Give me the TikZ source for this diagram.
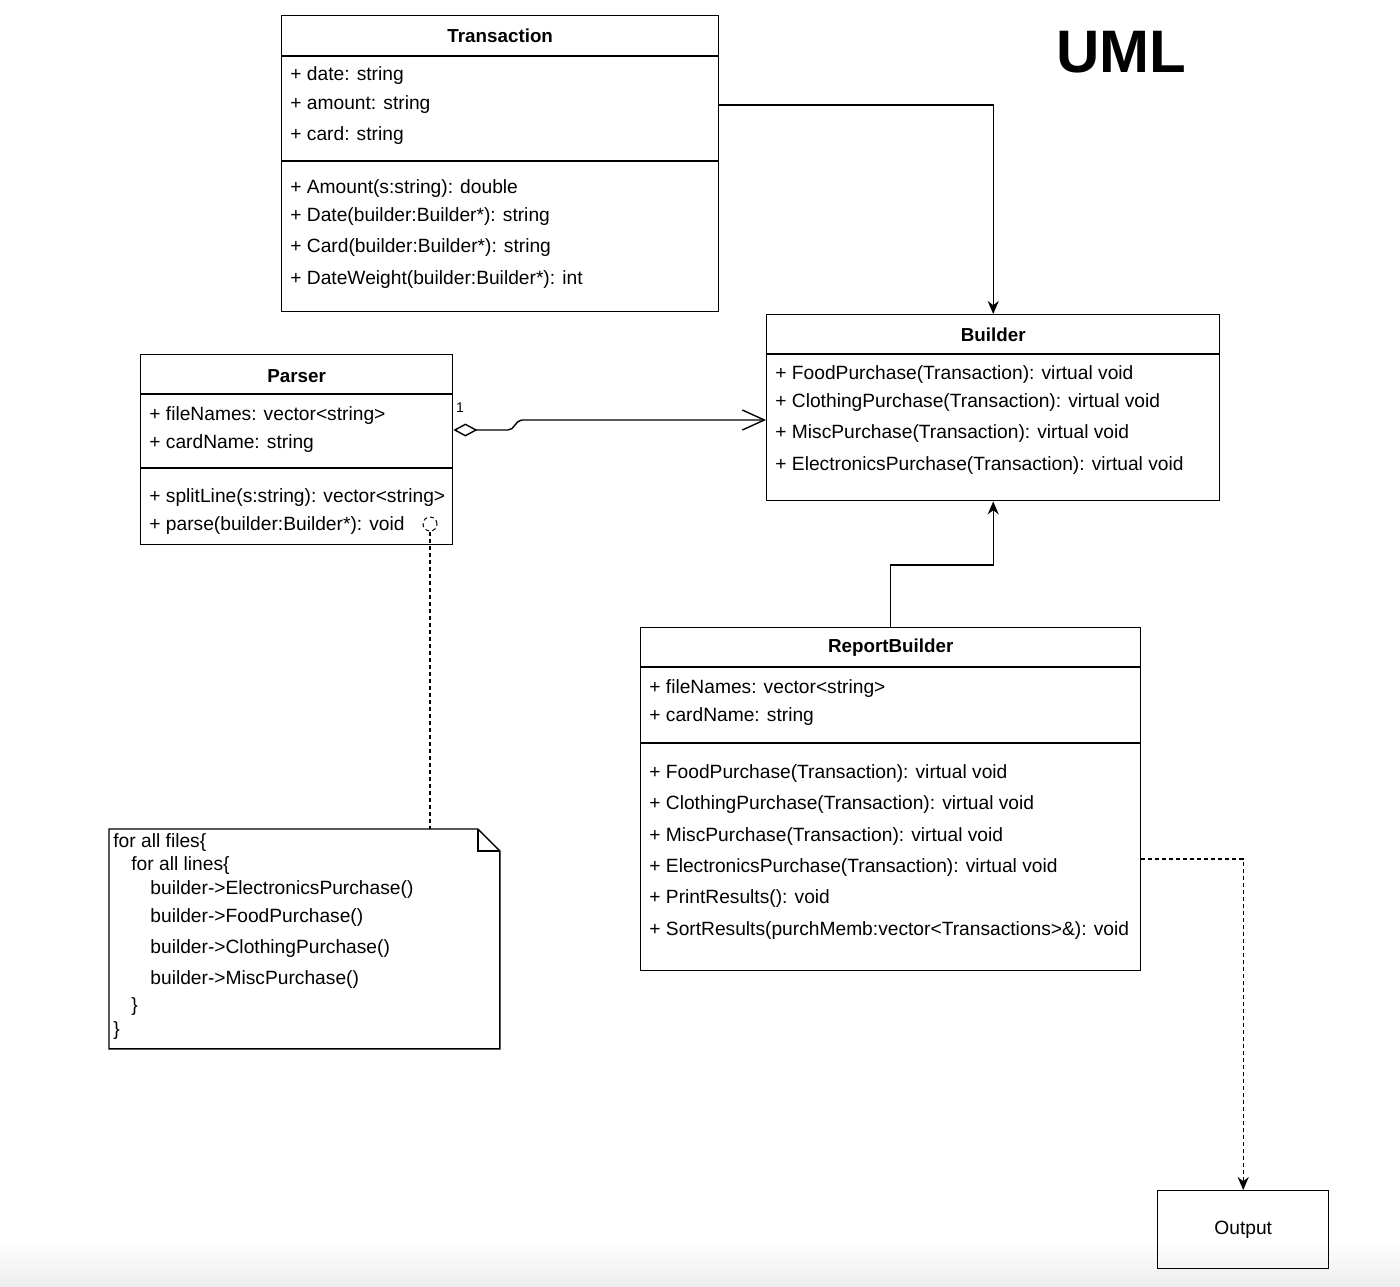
\documentclass[tikz,border=0pt]{standalone}
\usepackage{fontspec}
\setmainfont{Liberation Sans}
\usetikzlibrary{arrows.meta, positioning, calc}

\tikzset{
  classbox/.style={draw, line width=0.7pt, anchor=north west, inner sep=0pt},
  classname/.style={font=\fontsize{9.4}{11}\selectfont\bfseries},
  member/.style={anchor=base west, inner sep=0pt, yshift=-3.4pt, font=\fontsize{9.6}{11}\selectfont},
  divider/.style={line width=0.7pt},
  assoc/.style={line width=0.7pt, -{Stealth[length=6.5pt, width=5.5pt]}},
  dotline/.style={line width=0.7pt, dash pattern=on 2pt off 1.5pt},
}

\begin{document}
\begin{tikzpicture}[x=0.5pt, y=-0.5pt]
  \useasboundingbox (0,0) rectangle (1400,1286);
  \shade[top color=white, bottom color=black!7] (0,1240) rectangle (1400,1286);

  % Title
  \node[font=\fontsize{30}{36}\selectfont\bfseries] (uml) at (1121,52) {UML};

  % Transaction class
  \node[classbox, minimum width=218.5pt, minimum height=148pt] (tr) at (281,15) {};
  \node[classname] (tr-name) at (tr.north |- 0,36) {Transaction};
  \draw[divider] (tr.west |- 0,56) -- (tr.east |- 0,56);
  \draw[divider] (tr.west |- 0,161) -- (tr.east |- 0,161);
  \foreach \i/\y/\txt in {1/74/{+ date: string}, 2/103/{+ amount: string}, 3/134/{+ card: string},
      4/187/{+ Amount(s:string): double}, 5/215/{+ Date(builder:Builder*): string},
      6/246/{+ Card(builder:Builder*): string}, 7/278/{+ DateWeight(builder:Builder*): int}}
    \node[member] (tr-\i) at (290,\y) {\txt};

  % Builder class
  \node[classbox, minimum width=226.5pt, minimum height=93pt] (bu) at (766,314) {};
  \node[classname] (bu-name) at (bu.north |- 0,335) {Builder};
  \draw[divider] (bu.west |- 0,354) -- (bu.east |- 0,354);
  \foreach \i/\y/\txt in {1/373/{+ FoodPurchase(Transaction): virtual void},
      2/401/{+ ClothingPurchase(Transaction): virtual void},
      3/432/{+ MiscPurchase(Transaction): virtual void},
      4/464/{+ ElectronicsPurchase(Transaction): virtual void}}
    \node[member] (bu-\i) at (775,\y) {\txt};

  % Parser class
  \node[classbox, minimum width=156pt, minimum height=95pt] (pa) at (140,354) {};
  \node[classname] (pa-name) at (pa.north |- 0,376) {Parser};
  \draw[divider] (pa.west |- 0,394) -- (pa.east |- 0,394);
  \draw[divider] (pa.west |- 0,468) -- (pa.east |- 0,468);
  \foreach \i/\y/\txt in {1/414/{+ fileNames: vector<string>}, 2/442/{+ cardName: string},
      3/496/{+ splitLine(s:string): vector<string>}, 4/524/{+ parse(builder:Builder*): void}}
    \node[member] (pa-\i) at (149,\y) {\txt};
  \node[draw, circle, dotline, line width=0.5pt, minimum size=7pt, inner sep=0pt] (pa-hook) at (430,524) {};

  % ReportBuilder class
  \node[classbox, minimum width=250pt, minimum height=171.5pt] (rb) at (640,627) {};
  \node[classname] (rb-name) at (rb.north |- 0,648) {ReportBuilder};
  \draw[divider] (rb.west |- 0,667) -- (rb.east |- 0,667);
  \draw[divider] (rb.west |- 0,743) -- (rb.east |- 0,743);
  \foreach \i/\y/\txt in {1/687/{+ fileNames: vector<string>}, 2/715/{+ cardName: string},
      3/772/{+ FoodPurchase(Transaction): virtual void},
      4/803/{+ ClothingPurchase(Transaction): virtual void},
      5/835/{+ MiscPurchase(Transaction): virtual void},
      6/866/{+ ElectronicsPurchase(Transaction): virtual void},
      7/897/{+ PrintResults(): void},
      8/929/{+ SortResults(purchMemb:vector<Transactions>\&): void}}
    \node[member] (rb-\i) at (649,\y) {\txt};

  % Note
  \node[inner sep=0pt, minimum width=195pt, minimum height=109.5pt, anchor=north west] (note) at (109,829) {};
  \draw[line width=0.7pt] (note.north west) -- ([xshift=-11pt]note.north east)
    -- ([yshift=-11pt]note.north east) -- (note.south east) -- (note.south west) -- cycle;
  \draw[line width=0.7pt] ([xshift=-11pt]note.north east) |- ([yshift=-11pt]note.north east);
  \foreach \i/\x/\y/\txt in {1/113/841/{for all files\{}, 2/131/864/{for all lines\{},
      3/150/888/{builder->ElectronicsPurchase()}, 4/150/916/{builder->FoodPurchase()},
      5/150/947/{builder->ClothingPurchase()}, 6/150/978/{builder->MiscPurchase()},
      7/131/1005/{\}}, 8/113/1029/{\}}}
    \node[member] (note-\i) at (\x,\y) {\txt};
  \coordinate (note-top) at (430,829);

  % Output
  \node[classbox, minimum width=85.5pt, minimum height=39pt, font=\fontsize{9.6}{11}\selectfont] (out) at (1157,1190) {Output};

  % Connectors
  \draw[assoc] (tr.east |- 0,105) -| (bu.north);
  \draw[assoc] (rb.north) -- (rb.north |- 0,565) -| (bu.south);
  \draw[line width=0.7pt, {Diamond[open, length=12pt, width=6.5pt]}-{Straight Barb[length=11pt, width=10pt]}]
    (pa.east |- 0,430) -- (508,430) to[out=0, in=180] (522,420) -- (bu.west |- 0,420);
  \node[font=\fontsize{7}{8}\selectfont] (pa-mult) at (460,408) {1};
  \draw[dotline] (pa-hook) -- (note-top);
  \draw[dotline, -{Stealth[length=6.5pt, width=5.5pt]}] (rb.east |- 0,859) -| (out.north);
\end{tikzpicture}
\end{document}
